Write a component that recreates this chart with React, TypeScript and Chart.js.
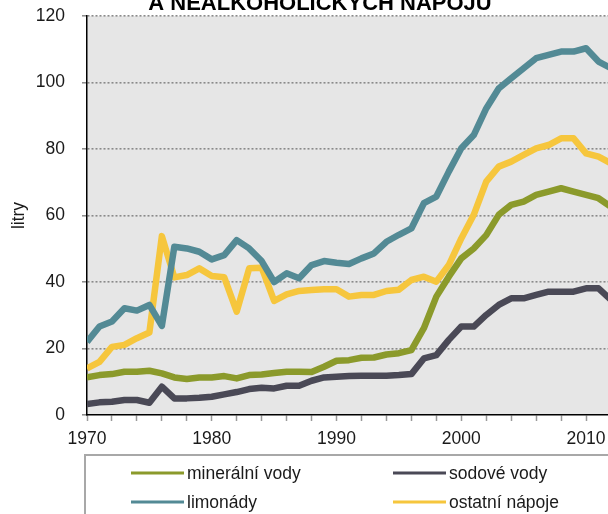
import React, { useEffect, useRef } from "react";
import { Chart, registerables } from "chart.js";

Chart.register(...registerables);

const titleText = "A NEALKOHOLICKÝCH NÁPOJŮ";
const yAxisTitle = "litry";

const years = [
  1970, 1971, 1972, 1973, 1974, 1975, 1976, 1977, 1978, 1979,
  1980, 1981, 1982, 1983, 1984, 1985, 1986, 1987, 1988, 1989,
  1990, 1991, 1992, 1993, 1994, 1995, 1996, 1997, 1998, 1999,
  2000, 2001, 2002, 2003, 2004, 2005, 2006, 2007, 2008, 2009,
  2010, 2011, 2012,
];

const mineralniVody = [
  11.3, 12.0, 12.3, 13.0, 13.0, 13.3, 12.5, 11.3, 10.8, 11.3,
  11.3, 11.7, 11.0, 12.0, 12.2, 12.6, 13.0, 13.0, 12.9, 14.5,
  16.3, 16.5, 17.2, 17.3, 18.2, 18.6, 19.5, 26.1, 35.6, 41.6,
  47.1, 50.1, 54.1, 60.2, 63.2, 64.2, 66.2, 67.2, 68.2, 67.2,
  66.2, 65.2, 62.6,
];

const sodoveVody = [
  3.3, 3.8, 4.0, 4.5, 4.5, 3.7, 8.5, 5.0, 5.0, 5.2,
  5.5, 6.2, 6.9, 7.8, 8.2, 8.0, 8.8, 8.8, 10.3, 11.3,
  11.5, 11.7, 11.8, 11.8, 11.8, 12.0, 12.3, 17.0, 18.0, 22.6,
  26.6, 26.6, 30.1, 33.1, 35.1, 35.1, 36.1, 37.1, 37.1, 37.1,
  38.1, 38.1, 34.6,
];

const limonady = [
  22.0, 26.6, 28.1, 32.1, 31.4, 33.1, 26.8, 50.6, 50.1, 49.1,
  46.8, 48.1, 52.6, 50.1, 46.3, 40.0, 42.6, 41.1, 45.1, 46.3,
  45.8, 45.4, 47.1, 48.6, 52.1, 54.2, 56.1, 63.7, 65.7, 73.2,
  80.2, 84.2, 92.2, 98.2, 101.3, 104.3, 107.3, 108.3, 109.3, 109.3,
  110.3, 106.3, 104.3,
];

const ostatniNapoje = [
  14.0, 16.0, 20.5, 21.1, 23.1, 24.8, 53.8, 41.4, 42.1, 44.1,
  41.8, 41.4, 31.1, 44.1, 44.3, 34.3, 36.3, 37.3, 37.6, 37.8,
  37.8, 35.6, 36.1, 36.1, 37.3, 37.7, 40.6, 41.6, 40.1, 45.1,
  53.1, 60.2, 70.2, 74.7, 76.2, 78.2, 80.2, 81.2, 83.2, 83.2,
  78.7, 77.7, 75.7,
];

const seriesLabels = ["minerální vody", "sodové vody", "limonády", "ostatní nápoje"];
const seriesColors = ["#8b9a2b", "#4a4956", "#538a95", "#f6c63d"];
const seriesValues = [mineralniVody, sodoveVody, limonady, ostatniNapoje];

const xTickYears = [
  1970, 1972, 1974, 1976, 1978, 1980, 1982, 1984, 1986, 1988,
  1990, 1992, 1994, 1996, 1998, 2000, 2002, 2004, 2006, 2008, 2010,
];
const xMin = 1970;
const xMax = 2011.76;
const yMin = 0;
const yMax = 120;
const yStep = 20;

const FONT = "'Liberation Sans', Arial, sans-serif";
const TEXT_SIZE = 17.5;

const bgPlugin = {
  id: "plotBg",
  beforeDraw(chart: any) {
    const { ctx, chartArea } = chart;
    ctx.save();
    ctx.fillStyle = "#e6e6e6";
    ctx.fillRect(chartArea.left, chartArea.top, chartArea.right - chartArea.left, chartArea.bottom - chartArea.top);
    ctx.restore();
  },
};

const titlePlugin = {
  id: "cutTitle",
  afterDraw(chart: any) {
    const { ctx } = chart;
    ctx.save();
    ctx.font = `bold 22px ${FONT}`;
    ctx.fillStyle = "#000";
    ctx.textAlign = "center";
    ctx.textBaseline = "alphabetic";
    ctx.fillText(titleText, 320, 9.5);
    ctx.restore();
  },
};

const legendPlugin = {
  id: "boxLegend",
  afterDraw(chart: any) {
    const { ctx, chartArea } = chart;
    const left = chartArea.left - 2;
    const top = 455;
    ctx.save();
    ctx.strokeStyle = "#a8a8a8";
    ctx.lineWidth = 2;
    ctx.strokeRect(left, top, 700, 120);
    ctx.font = `${TEXT_SIZE}px ${FONT}`;
    ctx.textBaseline = "middle";
    ctx.textAlign = "left";
    chart.data.datasets.forEach((ds: any, i: number) => {
      const col = i % 2;
      const row = Math.floor(i / 2);
      const x0 = left + 46 + col * 262;
      const y0 = top + 18 + row * 29;
      ctx.strokeStyle = ds.borderColor;
      ctx.lineWidth = 3;
      ctx.beginPath();
      ctx.moveTo(x0, y0);
      ctx.lineTo(x0 + 53, y0);
      ctx.stroke();
      ctx.fillStyle = "#1a1a1a";
      ctx.fillText(ds.label, x0 + 56, y0 + 1);
    });
    ctx.restore();
  },
};

export default function App() {
  const ref = useRef<HTMLCanvasElement>(null);
  useEffect(() => {
    if (!ref.current) return;
    const chart = new Chart(ref.current, {
      type: "line",
      data: {
        datasets: seriesValues.map((vals, i) => ({
          label: seriesLabels[i],
          data: vals.map((v, j) => ({ x: years[j], y: v })),
          borderColor: seriesColors[i],
          backgroundColor: seriesColors[i],
          borderWidth: 6.5,
          pointRadius: 0,
          tension: 0,
          borderJoinStyle: "round" as const,
          clip: 0,
        })),
      },
      options: {
        responsive: false,
        animation: false,
        layout: { padding: { top: 16, right: 0, bottom: 59, left: 0 } },
        plugins: {
          legend: { display: false },
          title: { display: false },
          tooltip: { enabled: false },
        },
        scales: {
          x: {
            type: "linear",
            min: xMin,
            max: xMax,
            afterBuildTicks: (scale: any) => {
              scale.ticks = xTickYears.map((v) => ({ value: v }));
            },
            afterFit: (scale: any) => {
              scale.height = 40;
              scale.paddingLeft = 0;
              scale.paddingRight = 0;
            },
            ticks: {
              autoSkip: false,
              maxRotation: 0,
              padding: 8,
              color: "#1a1a1a",
              font: { family: FONT, size: TEXT_SIZE },
              callback: (v: any) => (Number(v) % 10 === 0 ? String(v) : ""),
            },
            grid: {
              drawOnChartArea: false,
              drawTicks: true,
              tickLength: 6,
              tickColor: "#9a9a9a",
              tickWidth: 1.5,
            },
            border: { display: true, color: "#000", width: 1.5 },
          },
          y: {
            min: yMin,
            max: yMax,
            afterFit: (scale: any) => {
              scale.width = 87;
              scale.paddingTop = 0;
              scale.paddingBottom = 0;
            },
            ticks: {
              stepSize: yStep,
              padding: 17,
              color: "#1a1a1a",
              font: { family: FONT, size: TEXT_SIZE },
            },
            title: {
              display: true,
              text: yAxisTitle,
              color: "#1a1a1a",
              font: { family: FONT, size: TEXT_SIZE },
              padding: { top: 9, bottom: 0 },
            },
            grid: {
              color: (c: any) => (c.tick && c.tick.value === 0 ? "rgba(0,0,0,0)" : "#8a8a8a"),
              lineWidth: 1.6,
              drawTicks: true,
              tickLength: 5,
              tickColor: "#8a8a8a",
              tickWidth: 1.5,
              tickBorderDash: [],
            },
            border: { display: true, color: "#000", width: 1.5, dash: [2, 2] },
          },
        },
      },
      plugins: [bgPlugin, titlePlugin, legendPlugin],
    } as any);
    return () => chart.destroy();
  }, []);
  return (
    <div style={{ position: "absolute", left: 0, top: 0, width: 608, height: 514, overflow: "hidden", background: "#fff" }}>
      <canvas ref={ref} width={608} height={514} style={{ display: "block" }} />
    </div>
  );
}
